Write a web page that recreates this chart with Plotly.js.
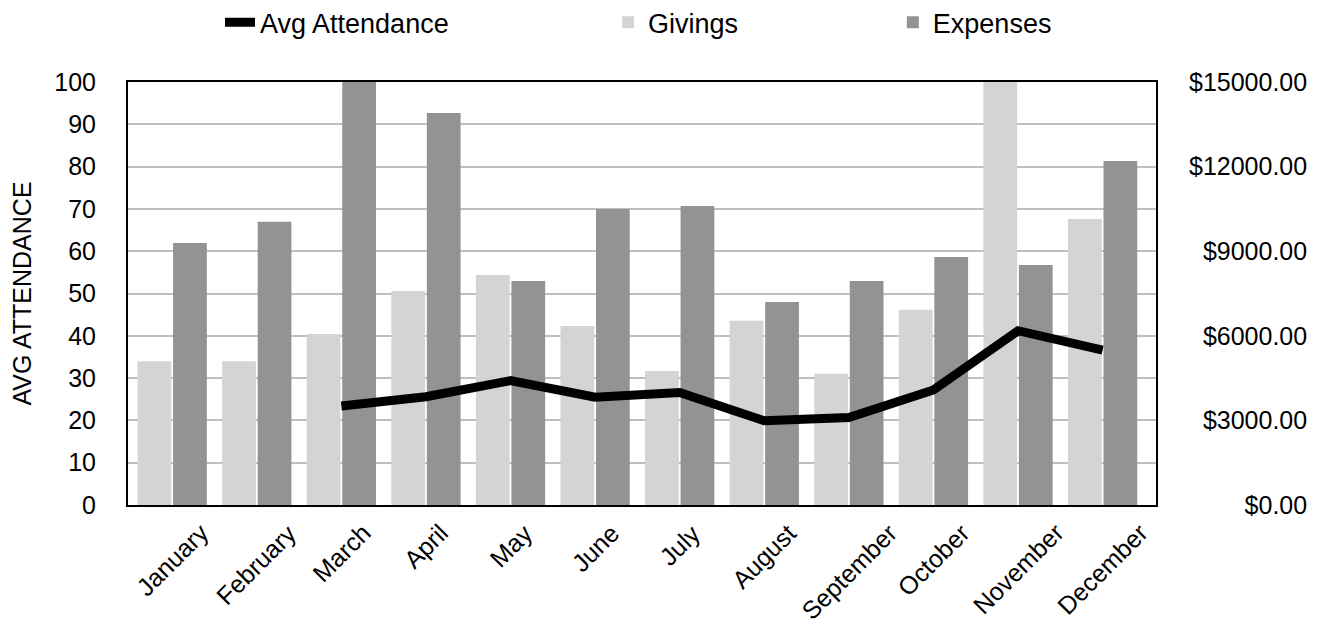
<!DOCTYPE html>
<html>
<head>
<meta charset="utf-8">
<script src="https://cdn.plot.ly/plotly-3.0.1.min.js"></script>
<style>html,body{margin:0;padding:0;background:#fff;}#chart{width:1325px;height:629px;}</style>
</head>
<body>
<div id="chart"></div>
<script>
const months = ["January","February","March","April","May","June","July","August","September","October","November","December"];
const avgAttendance = [null, null, 23.4, 25.6, 29.4, 25.5, 26.6, 19.9, 20.7, 27.2, 41.2, 36.6];
const givings = [5100, 5100, 6060, 7590, 8160, 6350, 4750, 6530, 4650, 6920, 15000, 10140];
const expenses = [9290, 10040, 15000, 13900, 7940, 10500, 10600, 7200, 7940, 8790, 8510, 12200];
const attendanceTicks = [0,10,20,30,40,50,60,70,80,90,100];
const dollarTicks = [0,3000,6000,9000,12000,15000];

const FONT = "Liberation Sans, Arial, Helvetica, sans-serif";
const dollarLabels = dollarTicks.map(v => "$" + v.toFixed(2));
const maxLen = Math.max(...dollarLabels.map(s => s.length));
const dollarText = dollarLabels.map(s => "\u2007".repeat(maxLen - s.length) + s);

const data = [
  {type:"scatter", mode:"lines", name:"Avg Attendance", x:months, y:avgAttendance,
   xaxis:"x", yaxis:"y2", line:{color:"#000000", width:9}, legend:"legend"},
  {type:"bar", name:"Givings", x:months, y:givings, xaxis:"x", yaxis:"y",
   marker:{color:"#d4d4d4"}, legend:"legend2"},
  {type:"bar", name:"Expenses", x:months, y:expenses, xaxis:"x", yaxis:"y",
   marker:{color:"#939393"}, legend:"legend3"}
];

const annotations = months.map(m => ({
  x: m, xref:"x", y:-0.026, yref:"paper", text:m, showarrow:false,
  textangle:-45, xanchor:"center", yanchor:"top",
  font:{family:FONT, size:25, color:"#000"}
}));

const legendBase = {orientation:"h", yanchor:"middle", y:1.14, xanchor:"left",
  font:{family:FONT, size:27, color:"#000"}, bgcolor:"rgba(0,0,0,0)", borderwidth:0};

const layout = {
  width:1325, height:629,
  margin:{l:128, r:169, t:82, b:124, autoexpand:false},
  paper_bgcolor:"#ffffff", plot_bgcolor:"#ffffff",
  font:{family:FONT, size:25, color:"#000"},
  barmode:"group", bargap:0.16, bargroupgap:0.05,
  showlegend:true,
  legend:Object.assign({}, legendBase, {x:0.0895}),
  legend2:Object.assign({}, legendBase, {x:0.467}),
  legend3:Object.assign({}, legendBase, {x:0.744}),
  xaxis:{type:"category", categoryarray:months, showticklabels:false, ticks:"",
    showline:true, linecolor:"#000", linewidth:2, mirror:true, showgrid:false, zeroline:false},
  yaxis:{side:"right", range:[0,15000], tickvals:dollarTicks, ticktext:dollarText,
    ticks:"", ticklabelstandoff:26, tickfont:{family:FONT, size:25, color:"#000"},
    showline:true, linecolor:"#000", linewidth:2, mirror:true,
    showgrid:true, gridcolor:"#bfbfbf", gridwidth:2, zeroline:false,
    minor:{dtick:1500, showgrid:true, gridcolor:"#bfbfbf", gridwidth:2, ticks:""}},
  yaxis2:{overlaying:"y", side:"left", range:[0,100], tickvals:attendanceTicks,
    ticks:"", ticklabelstandoff:25, tickfont:{family:FONT, size:25, color:"#000"},
    showline:true, linecolor:"#000", linewidth:2, showgrid:false, zeroline:false,
    title:{text:"AVG ATTENDANCE", font:{family:FONT, size:25, color:"#000"}, standoff:16}},
  annotations: annotations
};

Plotly.newPlot("chart", data, layout, {displayModeBar:false, staticPlot:true});
</script>
</body>
</html>
